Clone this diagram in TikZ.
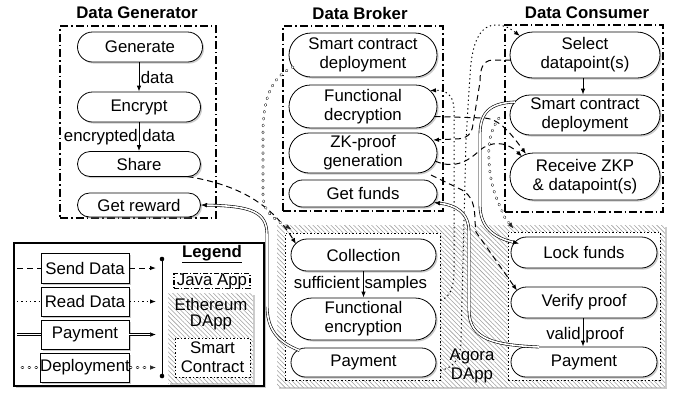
\documentclass[tikz,border=0pt]{standalone}
\usepackage{fontspec}
\setmainfont{Liberation Sans}
\usetikzlibrary{arrows.meta,shapes.misc,shadows,patterns,patterns.meta,calc}
\newcommand\dfnt{\fontsize{16.8pt}{19pt}\selectfont}
\begin{document}
\begin{tikzpicture}[x=1pt,y=-1pt,
  every node/.style={font=\dfnt, inner sep=0pt},
  shad/.style={drop shadow={shadow xshift=1.6pt, shadow yshift=-1.6pt, opacity=0.4}},
  proc/.style={rounded rectangle, draw, line width=0.8pt, fill=white, align=center, shad},
  lgbox/.style={rectangle, draw, line width=0.8pt, fill=white, minimum width=88pt, shad},
  grpbox/.style={draw, line width=1.3pt, dash pattern=on 8pt off 3pt on 1.5pt off 3pt},
  scbox/.style={draw, line width=1pt, fill=white, dash pattern=on 1.5pt off 2pt},
  hatch/.style={fill=white, postaction={pattern={Lines[angle=-45,distance=3.2pt,line width=0.55pt]}, pattern color=gray!75}},
  arr/.style={-{Latex[length=6pt,width=4.5pt]}},
  flow/.style={line width=0.8pt, arr},
  sd/.style={line width=1pt, dash pattern=on 6pt off 4pt},
  rd/.style={line width=1pt, dash pattern=on 1.3pt off 3pt},
  pd/.style={line width=0.6pt, double=white, double distance=1.6pt},
  dd/.style={draw=black!85, line width=0.6pt, double=white, double distance=1.4pt, line cap=round, dash pattern=on 0.9pt off 6pt},
]
\useasboundingbox (0,0) rectangle (677,392);

% ---------- backgrounds ----------
\node[hatch, shad, minimum width=388pt, minimum height=162pt] (agorabg) at (471,306) {};
\node[scbox, minimum width=155pt, minimum height=147pt] (sc1) at (362.5,306.5) {};
\node[scbox, minimum width=152pt, minimum height=148pt] (sc2) at (584,306) {};
\node[align=center] (agora) at (472,366) {Agora\\DApp};

\node[grpbox, minimum width=156pt, minimum height=192pt] (gbox) at (138,122) {};
\node[grpbox, minimum width=160pt, minimum height=185pt] (bbox) at (363,118.5) {};
\node[grpbox, minimum width=158pt, minimum height=187pt] (cbox) at (584,118.5) {};

\node[font=\bfseries\dfnt] (tgen) at (137,13) {Data Generator};
\node[font=\bfseries\dfnt] (tbrk) at (360,13) {Data Broker};
\node[font=\bfseries\dfnt] (tcon) at (587,13) {Data Consumer};

% ---------- generator ----------
\node[proc, minimum width=125pt, minimum height=30pt] (gen) at (140,47) {Generate};
\node[proc, minimum width=123pt, minimum height=30pt] (enc) at (139,107) {Encrypt};
\node[proc, minimum width=123pt, minimum height=25pt] (share) at (139,164) {Share};
\node[proc, minimum width=123pt, minimum height=24pt] (rew) at (139,205) {Get reward};

% ---------- broker ----------
\node[proc, minimum width=148pt, minimum height=44pt] (bsc) at (363,55) {Smart contract\\deployment};
\node[proc, minimum width=148pt, minimum height=43pt] (fdec) at (363,106.5) {Functional\\decryption};
\node[proc, minimum width=148pt, minimum height=40pt] (zk) at (363,153) {ZK-proof\\generation};
\node[proc, minimum width=148pt, minimum height=27pt] (funds) at (363,193.5) {Get funds};

% ---------- consumer ----------
\node[proc, minimum width=150pt, minimum height=46pt] (sel) at (585,55) {Select\\datapoint(s)};
\node[proc, minimum width=150pt, minimum height=40pt] (csc) at (585,115) {Smart contract\\deployment};
\node[proc, minimum width=150pt, minimum height=47pt] (rcv) at (585,176.5) {Receive ZKP\\\& datapoint(s)};

% ---------- agora ----------
\node[proc, minimum width=145pt, minimum height=32pt] (col) at (363.5,255) {Collection};
\node[proc, minimum width=145pt, minimum height=42pt] (fenc) at (363.5,319) {Functional\\encryption};
\node[proc, minimum width=145pt, minimum height=29pt] (pay1) at (363.5,362.5) {Payment};
\node[proc, minimum width=146pt, minimum height=31pt] (lock) at (584,252.5) {Lock funds};
\node[proc, minimum width=146pt, minimum height=31pt] (ver) at (584,302.5) {Verify proof};
\node[proc, minimum width=146pt, minimum height=30pt] (pay2) at (584,362) {Payment};

% ---------- internal flows ----------
\draw[flow] (enc.north |- gen.south) -- (enc.north) node[midway, anchor=west, xshift=1.5pt] {data};
\draw[flow] (enc.south) -- (share.north) node[midway, xshift=-19.5pt] {encrypted data};
\draw[flow] (sel.south -| 583,0) -- (csc.north -| 583,0);
\draw[flow] (col.south) -- (fenc.north) node[midway, xshift=-3pt] {sufficient samples};
\draw[flow] (ver.south -| 583,0) -- (pay2.north -| 583,0) node[midway, xshift=2pt, yshift=-3pt] {valid proof};

% ---------- send data (dashed) ----------
\draw[sd, arr] ($(share)+(48.5,12.5)$) .. controls (240,185) and (272,205) .. ($(col)+(-67.5,-11)$);
\draw[sd, arr] ($(fdec)+(71.5,10)$) -- (485,118) .. controls (500,119) and (512,135) .. ($(rcv)+(-59,-22.5)$);
\draw[sd, arr] ($(sel)+(-74,5)$) -- (492,60) .. controls (483,61) and (480,68) .. (480,82) -- (473,124) .. controls (472,135) and (466,139) .. (455,139) -- ($(zk)+(70,-13)$);
\draw[sd, arr] ($(zk)+(72,8)$) .. controls (455,170) and (470,160) .. (480,150) .. controls (490,142) and (505,140) .. ($(rcv)+(-63,-20)$);
\draw[sd, arr] ($(zk)+(68,22)$) -- (462,190) .. controls (472,196) and (475,205) .. (475,222) -- (476,232) -- ($(ver)+(-67,-12)$);

% ---------- read data (dotted) ----------
\draw[rd, arr] ($(sc1.east)+(0,-6)$) .. controls (450,297) and (454,288) .. (454,270) -- (454,110) .. controls (454,96) and (447,90) .. ($(fdec)+(67,-16)$);
\draw[rd, arr] ($(sc1.east)+(0,64)$) .. controls (452,368) and (461,360) .. (461,340) -- (466,140) -- (470,75) .. controls (472,38) and (482,25) .. (496,25) .. controls (505,25) and (511,29) .. ($(sel)+(-65,-19)$);

% ---------- deployment (circles) ----------
\draw[dd, arr] ($(bsc)+(-70,12)$) .. controls (270,78) and (263,100) .. (263,135) -- (263,195) .. controls (263,215) and (280,222) .. ($(sc1.north west)+(7,-3)$);
\draw[dd, arr] ($(csc)+(-86,3)$) .. controls (490,130) and (488,145) .. (489,160) .. controls (490,190) and (500,205) .. (505,218) -- ($(sc2.north west)+(6,-3)$);

% ---------- payment (double) ----------
\draw[pd, arr] ($(pay1)+(-64,-12)$) .. controls (278,342) and (267,330) .. (267,305) -- (267,235) .. controls (267,212) and (252,206) .. (rew.east);
\draw[pd, arr] ($(csc)+(-70,-13)$) .. controls (490,103) and (480,112) .. (480,135) -- (480,205) .. controls (480,228) and (495,238) .. ($(lock)+(-65,-9)$);
\draw[pd, arr] ($(pay2)+(-45,-15)$) .. controls (495,345) and (469,340) .. (469,310) -- (469,232) .. controls (469,212) and (455,205) .. ($(funds)+(71,9)$);

% ---------- legend ----------
\node[draw, line width=1.5pt, fill=white, shad, minimum width=250pt, minimum height=143pt] (lgframe) at (139,314.5) {};
\node[lgbox, minimum height=30pt] (lsend) at (85,268) {Send Data};
\node[lgbox, minimum height=29pt] (lread) at (85,301.5) {Read Data};
\node[lgbox, minimum height=29pt] (lpay) at (85,334.5) {Payment};
\node[lgbox, minimum height=29pt] (ldep) at (85,367.5) {Deployment};
\coordinate (lsendA) at (17,268);  \coordinate (lsendB) at (156,268);
\coordinate (lreadA) at (17,301.5); \coordinate (lreadB) at (156,301.5);
\coordinate (lpayA) at (17,334.5);  \coordinate (lpayB) at (156,334.5);
\coordinate (ldepA) at (22,367.5);  \coordinate (ldepB) at (156,367.5);
\draw[sd] (lsendA) -- (lsend.west);  \draw[sd, arr] (lsend.east) -- (lsendB);
\draw[rd] (lreadA) -- (lread.west);  \draw[rd, arr] (lread.east) -- (lreadB);
\draw[pd] (lpayA) -- (lpay.west);    \draw[pd, arr] (lpay.east) -- (lpayB);
\draw[dd] (ldepA) -- (ldep.west);    \draw[dd, arr] (ldep.east) -- (ldepB);
\coordinate (vtop) at (162,259); \coordinate (vbot) at (162,376);
\draw[line width=1pt] (vtop) -- (vbot);
\fill (vtop) circle (2.3pt); \fill (vbot) circle (2.3pt);
\node[font=\bfseries\dfnt] (lgtitle) at (212,254) {\underline{Legend}};
\node[draw, line width=1.1pt, dash pattern=on 5pt off 2pt on 1.2pt off 2pt, minimum width=76pt, minimum height=14pt] (ljava) at (212,281) {Java App};
\node[hatch, shad, minimum width=85pt, minimum height=90pt] (leth) at (210.5,338) {};
\node[align=center] (lethtext) at (211,314) {Ethereum\\[-2.5pt]DApp};
\node[scbox, align=center, minimum width=75pt, minimum height=39pt] (lsc) at (212.5,357.5) {Smart\\Contract};
\end{tikzpicture}
\end{document}
